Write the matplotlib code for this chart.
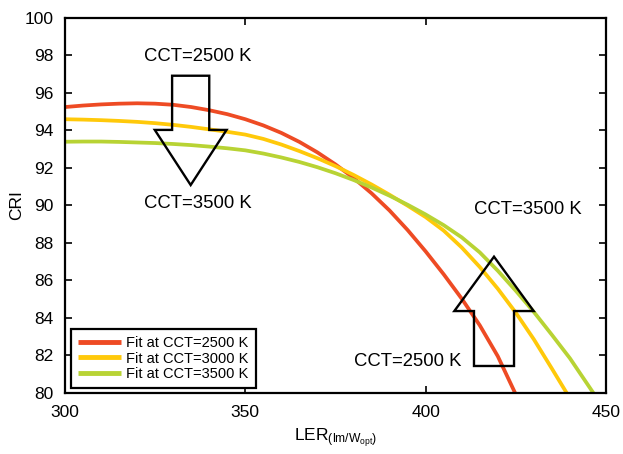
import matplotlib
matplotlib.use("Agg")
import matplotlib.pyplot as plt
from matplotlib.patches import Polygon

plt.rcParams['font.family'] = ['Liberation Sans', 'DejaVu Sans']
plt.rcParams['mathtext.fontset'] = 'custom'
plt.rcParams['mathtext.rm'] = 'Liberation Sans'
plt.rcParams['mathtext.it'] = 'Liberation Sans:italic'
plt.rcParams['mathtext.bf'] = 'Liberation Sans:bold'

# Fitted CRI vs LER curves for three correlated colour temperatures
ler_2500 = [300, 305, 310, 315, 320, 325, 330, 335, 340, 345, 350, 355, 360, 365, 370, 375,
            380, 385, 390, 395, 400, 405, 410, 415, 420, 424.8]
cri_2500 = [95.25, 95.33, 95.39, 95.43, 95.45, 95.43, 95.37, 95.25, 95.08, 94.87, 94.60,
            94.27, 93.87, 93.39, 92.83, 92.19, 91.47, 90.65, 89.73, 88.69, 87.55, 86.33,
            85.03, 83.61, 81.96, 80.0]

ler_3000 = [300, 305, 310, 315, 320, 325, 330, 335, 340, 345, 350, 355, 360, 365, 370, 375,
            380, 385, 390, 395, 400, 405, 410, 415, 420, 425, 430, 435, 439.1]
cri_3000 = [94.6, 94.58, 94.55, 94.51, 94.46, 94.39, 94.3, 94.19, 94.06, 93.93, 93.78,
            93.55, 93.25, 92.9, 92.52, 92.1, 91.63, 91.12, 90.57, 89.99, 89.38, 88.66,
            87.76, 86.72, 85.56, 84.28, 82.86, 81.3, 80.0]

ler_3500 = [300, 305, 310, 315, 320, 325, 330, 335, 340, 345, 350, 355, 360, 365, 370, 375,
            380, 385, 390, 395, 400, 405, 410, 415, 420, 425, 430, 435, 440, 446.5]
cri_3500 = [93.4, 93.41, 93.41, 93.39, 93.36, 93.33, 93.28, 93.22, 93.14, 93.05, 92.94,
            92.77, 92.56, 92.32, 92.04, 91.72, 91.36, 90.96, 90.52, 90.04, 89.52, 88.95,
            88.3, 87.5, 86.52, 85.45, 84.32, 83.1, 81.85, 80.0]

series_labels = ["Fit at CCT=2500 K", "Fit at CCT=3000 K", "Fit at CCT=3500 K"]
series_colors = ["#EE4B24", "#FFC90A", "#B8D334"]

x_ticks = [300, 350, 400, 450]
y_ticks = list(range(80, 101, 2))

fig = plt.figure(figsize=(6.23, 4.54), dpi=100)
ax = fig.add_axes([0.1043, 0.1344, 0.8684, 0.8260])

for xs, ys, lab, col in zip([ler_2500, ler_3000, ler_3500],
                            [cri_2500, cri_3000, cri_3500],
                            series_labels, series_colors):
    ax.plot(xs, ys, color=col, lw=2.7, label=lab, solid_capstyle='butt',
            solid_joinstyle='round', zorder=2)

ax.set_xlim(300, 450)
ax.set_ylim(80, 100)
ax.set_xticks(x_ticks)
ax.set_yticks(y_ticks)
ax.tick_params(direction='in', top=True, right=True, length=5, width=1.2,
               labelsize=12.5, colors='black')
ax.tick_params(axis='x', pad=9)
ax.tick_params(axis='y', pad=8)
for s in ax.spines.values():
    s.set_linewidth(1.6)
    s.set_color('black')

ax.set_ylabel("CRI", fontsize=12.5, ha='center', va='center')
ax.yaxis.set_label_coords(-0.089, 0.5)
ax.set_xlabel(r"LER$_{\mathrm{(lm/W_{opt})}}$", fontsize=12.5, va='center')
ax.xaxis.set_label_coords(0.5, -0.12)


def block_arrow(ax, x_center, y_tail, y_base, y_tip, shaft_half, head_half):
    pts = [(x_center - shaft_half, y_tail), (x_center + shaft_half, y_tail),
           (x_center + shaft_half, y_base), (x_center + head_half, y_base),
           (x_center, y_tip), (x_center - head_half, y_base),
           (x_center - shaft_half, y_base)]
    ax.add_patch(Polygon(pts, closed=True, fill=False, edgecolor='black', lw=1.7,
                         joinstyle='miter', zorder=3))


# Downward arrow: 2500 K -> 3500 K at low LER
block_arrow(ax, 334.85, 96.92, 94.03, 91.09, 5.15, 9.95)
# Upward arrow: 2500 K -> 3500 K at high LER
block_arrow(ax, 418.95, 81.44, 84.37, 87.27, 5.55, 11.0)

ann_kw = dict(fontsize=13.3, ha='center', va='center', color='black', zorder=4)
ax.text(336.8, 97.97, "CCT=2500 K", **ann_kw)
ax.text(336.9, 90.12, "CCT=3500 K", **ann_kw)
ax.text(428.2, 89.76, "CCT=3500 K", **ann_kw)
ax.text(395.0, 81.67, "CCT=2500 K", **ann_kw)

leg = ax.legend(loc='lower left', bbox_to_anchor=(0.011, 0.0125), borderaxespad=0,
                fontsize=10.5, handlelength=2.9, handletextpad=0.4, borderpad=0.5,
                labelspacing=0.1, fancybox=False, framealpha=1, edgecolor='black')
leg.get_frame().set_linewidth(1.6)
for h in leg.get_lines():
    h.set_linewidth(3.5)

fig.savefig("out.png", dpi=100)
